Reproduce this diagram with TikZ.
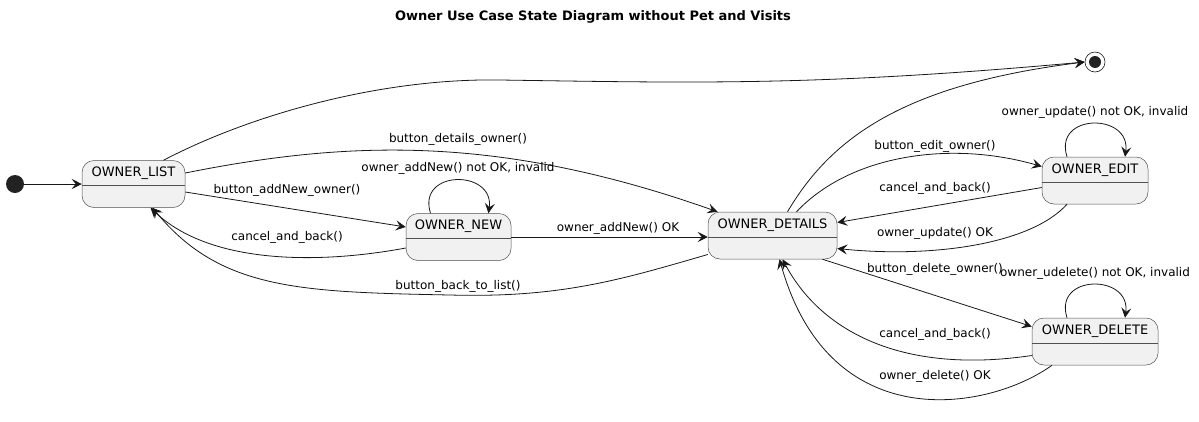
\documentclass[tikz,border=0pt]{standalone}
\usepackage{fontspec}
\setmainfont{DejaVu Sans}
\usetikzlibrary{arrows.meta}
\definecolor{stateFill}{HTML}{F1F1F1}
\definecolor{lineGray}{HTML}{181818}
\definecolor{boxGray}{HTML}{505050}
\definecolor{dotBlack}{HTML}{222222}
\newcommand{\ownerState}[4]{%%
  %% The state box.
  \node[stateStyle,minimum width=#4] (#1) at (#2) {};
  %% Its name above the divider.
  \node[nameStyle] (#1Name) at ([yshift=-13pt]#1.north) {#3};
  \draw[dividerStyle] ([yshift=-25pt]#1.north west) -- ([yshift=-25pt]#1.north east);
}
\newcommand{\selfLoop}[1]{%%
  %% A transition back into the same state.
  \draw[edgeStyle] ([xshift=-28pt]#1.north) .. controls +(-14,-44) and +(6,-44) .. ([xshift=30pt]#1.north);
}

\begin{document}
\begin{tikzpicture}[%%
  x=1pt,y=-1pt,
  stateStyle/.style={draw=boxGray,fill=stateFill,line width=0.5pt,rounded corners=12pt,minimum height=47pt,inner sep=0pt},%%
  nameStyle/.style={inner sep=0pt,font=\fontsize{13}{15}\selectfont},%%
  dividerStyle/.style={draw=boxGray,line width=0.5pt},%%
  edgeStyle/.style={draw=lineGray,line width=0.8pt,-{Stealth[length=10pt,width=10pt,inset=4pt]}},%%
  labelStyle/.style={inner sep=0pt,font=\fontsize{12}{14}\selectfont}
]
\useasboundingbox (0,0) rectangle (1199,421);
%%
%% The title.
\node[font=\fontsize{13}{15}\selectfont\bfseries] (title) at (593,17) {Owner Use Case State Diagram without Pet and Visits};
%% Start and end points.
\node[circle,fill=dotBlack,inner sep=0pt,minimum size=18pt] (start) at (15,184) {};
\node[circle,draw=lineGray,line width=0.6pt,inner sep=0pt,minimum size=20pt] (end) at (1095,62) {};
\node[circle,fill=dotBlack,inner sep=0pt,minimum size=12pt] (endDot) at (end.center) {};
%%
%% The states.
\ownerState{list}{133.5,184}{OWNER\_LIST}{103pt}
\ownerState{new}{458.5,237}{OWNER\_NEW}{105pt}
\ownerState{details}{772.5,235.5}{OWNER\_DETAILS}{129pt}
\ownerState{edit}{1095,180.5}{OWNER\_EDIT}{106pt}
\ownerState{delete}{1095,341.5}{OWNER\_DELETE}{126pt}
%%
%% Transitions out of the list.
\draw[edgeStyle] (start) -- (list);
\draw[edgeStyle] ([xshift=30pt]list.north) .. controls (250,115) and (380,78) .. (500,80)
  .. controls (700,83) and (820,86) .. (end.west);
\draw[edgeStyle] ([yshift=11pt]list.east) .. controls (350,140) and (500,135) .. ([xshift=-55pt]details.north)
  node[labelStyle] at (458,139) {button\_details\_owner()};
\draw[edgeStyle] ([yshift=-8pt]list.east) -- ([yshift=10pt]new.west)
  node[labelStyle] at (287,190) {button\_addNew\_owner()};
%% Transitions out of the new owner form.
\selfLoop{new}
\node[labelStyle] (newLoop) at (458,168) {owner\_addNew() not OK, invalid};
\draw[edgeStyle] ([yshift=-11pt]new.west) .. controls (320,264) and (210,265) .. ([xshift=17pt]list.south)
  node[labelStyle] at (287,237) {cancel\_and\_back()};
\draw[edgeStyle] (new.east) -- (new.east -| details.west)
  node[labelStyle] at (618,228) {owner\_addNew() OK};
%% Transitions out of the details.
\draw[edgeStyle] ([yshift=-19pt]details.west) .. controls (620,280) and (560,298) .. (450,295)
  .. controls (300,292) and (220,290) .. ([xshift=19pt]list.south)
  node[labelStyle] at (458,286) {button\_back\_to\_list()};
\draw[edgeStyle] ([xshift=15pt]details.north) .. controls (830,140) and (900,85) .. (end.west);
\draw[edgeStyle] ([xshift=24pt]details.north) .. controls (850,155) and (950,140) .. ([yshift=14pt]edit.west)
  node[labelStyle] at (935,146) {button\_edit\_owner()};
\draw[edgeStyle] ([xshift=50pt]details.south) -- ([yshift=15pt]delete.west)
  node[labelStyle] at (935,269) {button\_delete\_owner()};
%% Transitions out of the edit form.
\selfLoop{edit}
\node[labelStyle] (editLoop) at (1095,112) {owner\_update() not OK, invalid};
\draw[edgeStyle] ([yshift=-7pt]edit.west) -- ([yshift=13pt]details.east)
  node[labelStyle] at (935,188) {cancel\_and\_back()};
\draw[edgeStyle] ([xshift=-28pt]edit.south) .. controls (1030,245) and (930,258) .. ([yshift=-13pt]details.east)
  node[labelStyle] at (935,233) {owner\_update() OK};
%% Transitions out of the delete form.
\selfLoop{delete}
\node[labelStyle] (deleteLoop) at (1095,273) {owner\_udelete() not OK, invalid};
\draw[edgeStyle] ([yshift=-14pt]delete.west) .. controls (900,375) and (820,330) .. ([xshift=10pt]details.south)
  node[labelStyle] at (935,334) {cancel\_and\_back()};
\draw[edgeStyle] ([xshift=-43pt]delete.south) .. controls (990,410) and (830,440) .. ([xshift=7pt]details.south)
  node[labelStyle] at (935,376) {owner\_delete() OK};
\end{tikzpicture}
\end{document}
